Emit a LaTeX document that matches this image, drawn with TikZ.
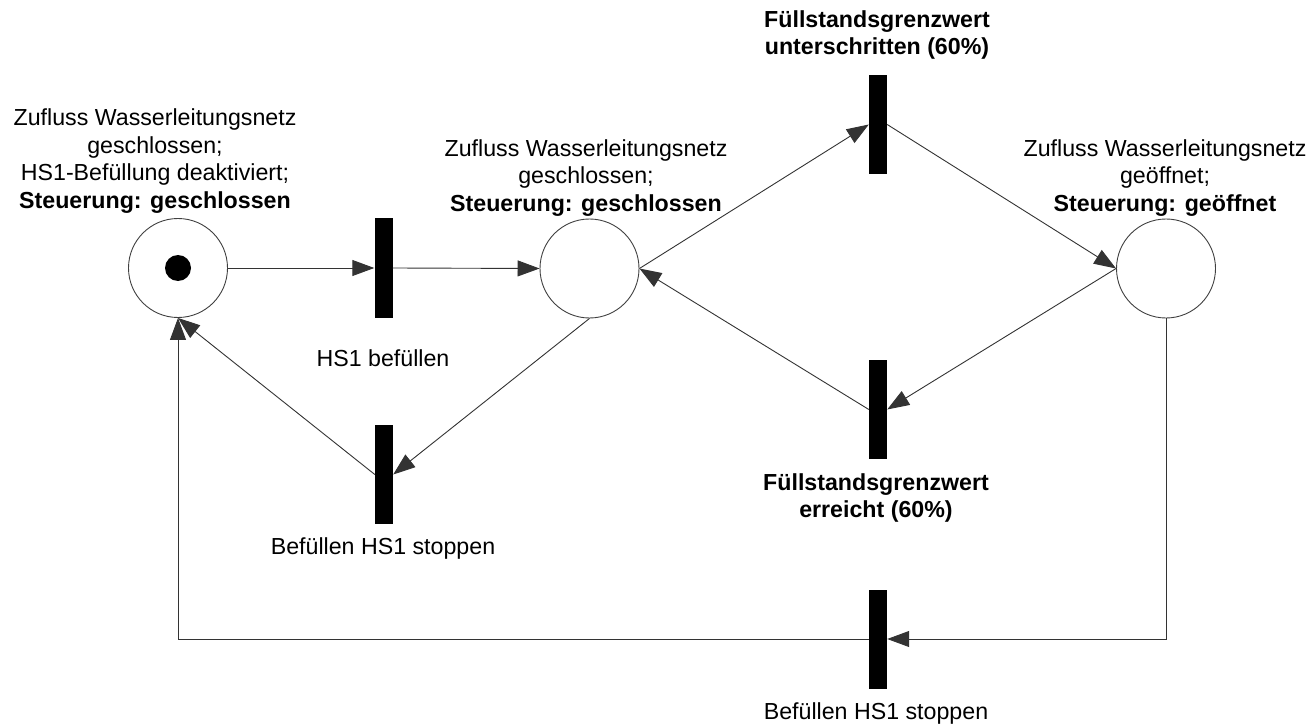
\documentclass[tikz,border=0pt]{standalone}
\usepackage{fontspec}
\setmainfont{Liberation Sans}
\usetikzlibrary{arrows.meta}

\begin{document}
\begin{tikzpicture}[x=1pt,y=-1pt,
  place/.style={circle,draw=black!75,line width=0.9pt,minimum size=99pt,inner sep=0pt,fill=white},
  trans/.style={rectangle,fill=black,draw=none,minimum width=18pt,minimum height=99pt,inner sep=0pt},
  token/.style={circle,fill=black,minimum size=26pt,inner sep=0pt},
  arc/.style={draw=black!80,line width=0.9pt,-{Triangle[length=22pt,width=16pt]}},
  lbl/.style={align=center,inner sep=0pt,font=\fontsize{23.2}{27.5}\selectfont},
  blbl/.style={lbl,font=\fontsize{23.2}{27.5}\selectfont\bfseries}]
  \useasboundingbox (0,0) rectangle (1311,727);

  % places
  \node[place] (p1) at (178,268) {};
  \node[token] (tok) at (178,268) {};
  \node[place] (p2) at (589.5,268.5) {};
  \node[place] (p3) at (1166,268.5) {};

  % transitions
  \node[trans] (t1) at (383.5,268) {};
  \node[trans] (t2) at (878,124.5) {};
  \node[trans] (t3) at (878,409.5) {};
  \node[trans] (t4) at (384,474.5) {};
  \node[trans] (t5) at (878,639) {};

  % place labels
  \node[lbl] (l1) at (155,161) {Zufluss Wasserleitungsnetz\\geschlossen;\\HS1-Befüllung deaktiviert;\\\textbf{Steuerung: geschlossen}};
  \node[lbl] (l2) at (586,178) {Zufluss Wasserleitungsnetz\\geschlossen;\\\textbf{Steuerung: geschlossen}};
  \node[lbl] (l3) at (1165,178) {Zufluss Wasserleitungsnetz\\geöffnet;\\\textbf{Steuerung: geöffnet}};

  % transition labels
  \node[lbl] (lt1) at (383,358) {HS1 befüllen};
  \node[blbl] (lt2) at (877,35) {Füllstandsgrenzwert\\unterschritten (60\%)};
  \node[blbl] (lt3) at (876,498) {Füllstandsgrenzwert\\erreicht (60\%)};
  \node[lbl] (lt4) at (383,548) {Befüllen HS1 stoppen};
  \node[lbl] (lt5) at (876,713) {Befüllen HS1 stoppen};

  % arcs
  \draw[arc] (p1.east) -- (t1.west);
  \draw[arc] (t1.east) -- (p2.west);
  \draw[arc] (p2.east) -- (t2.west);
  \draw[arc] (t2.east) -- (p3.west);
  \draw[arc] (p3.west) -- (t3.east);
  \draw[arc] (t3.west) -- (p2.east);
  \draw[arc] (p2.south) -- (t4.east);
  \draw[arc] (t4.west) -- (p1.south);
  \draw[arc] (p3.south) |- (t5.east);
  \draw[arc] (t5.west) -| (p1.south);
\end{tikzpicture}
\end{document}
